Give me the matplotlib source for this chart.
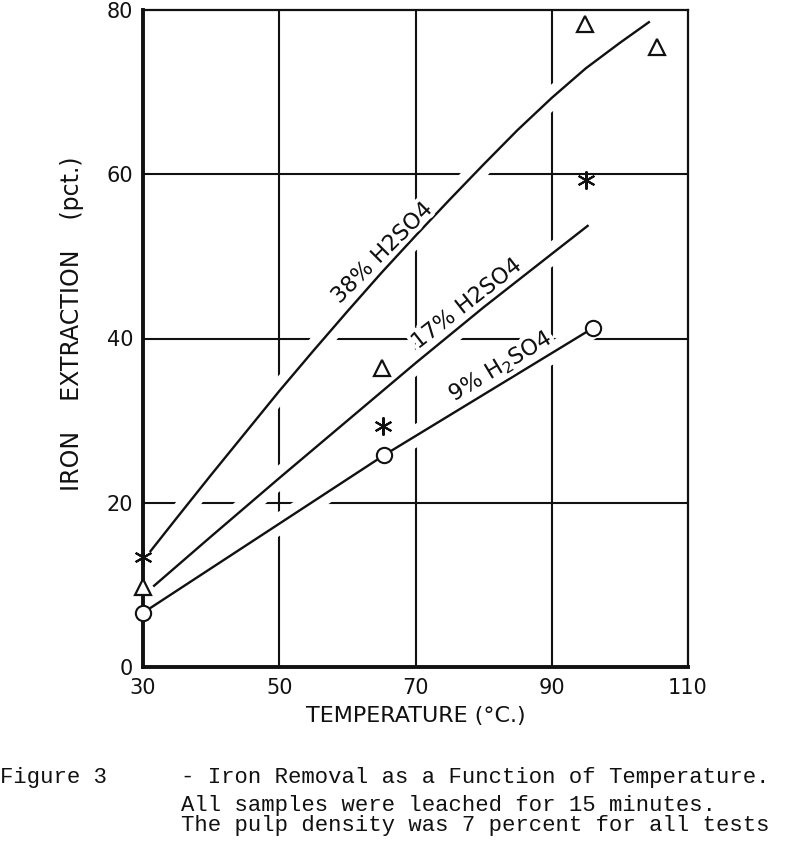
import matplotlib
matplotlib.use("Agg")
import matplotlib.pyplot as plt
import matplotlib.patheffects as pe

# ---- data ----
temp_38 = [31, 35, 40, 45, 50, 55, 60, 65, 70, 75, 80, 85, 90, 95, 100, 104.4]
ext_38 = [14.0, 18.2, 23.4, 28.5, 33.6, 38.5, 43.3, 48.0, 52.5, 56.9, 61.2, 65.4, 69.3, 72.9, 76.0, 78.6]

temp_17 = [31.5, 40, 50, 60, 70, 80, 90, 95.4]
ext_17 = [9.8, 15.9, 23.0, 30.0, 37.0, 43.8, 50.3, 53.8]

tri_t = [30, 65.1, 94.9, 105.4]
tri_v = [9.7, 36.4, 78.3, 75.5]
star_t = [30, 65.2, 95.1]
star_v = [13.4, 29.4, 59.3]
circ_t = [30, 65.4, 96.1]
circ_v = [6.6, 25.8, 41.3]

xticks = [30, 50, 70, 90, 110]
yticks = [0, 20, 40, 60, 80]
grid_x = [50, 70, 90]
grid_y = [20, 40, 60]

labels = ["38% H2SO4", "17% H2SO4", "9% H$_2$SO4"]
label_pos = [(65.1, 50.4), (77.5, 44.2), (82.5, 36.6)]
label_rot = [45, 38, 31]

caption_fig = "Figure 3"
caption_lines = ["- Iron Removal as a Function of Temperature.",
                 "All samples were leached for 15 minutes.",
                 "The pulp density was 7 percent for all tests"]

# ---- figure ----
W, H = 800, 858
AX_L, AX_R, AX_T, AX_B = 143, 688, 10, 667
fig = plt.figure(figsize=(W / 100, H / 100), dpi=100)
ax = fig.add_axes([AX_L / W, (H - AX_B) / H, (AX_R - AX_L) / W, (AX_B - AX_T) / H])
ax.set_xlim(30, 110)
ax.set_ylim(0, 80)

ink = "#111111"
for gx in grid_x:
    ax.axvline(gx, color=ink, lw=1.5, zorder=1)
for gy in grid_y:
    ax.axhline(gy, color=ink, lw=1.5, zorder=1)

gap = [pe.Stroke(linewidth=15, foreground="white"), pe.Normal()]
for tx, vy in [(circ_t, circ_v), (temp_17, ext_17), (temp_38, ext_38)]:
    ax.plot(tx, vy, color=ink, lw=1.7, zorder=2, path_effects=gap,
            solid_capstyle="butt", solid_joinstyle="round")

ax.plot(circ_t, circ_v, ls="none", marker="o", ms=11, mfc="white", mec=ink,
        mew=1.5, zorder=5, clip_on=False)
ax.plot(tri_t, tri_v, ls="none", marker="^", ms=12, mfc="white", mec=ink,
        mew=1.6, zorder=5, clip_on=False)
ax.plot(star_t, star_v, ls="none", marker=(6, 2, 0), ms=13, mec=ink,
        mew=1.5, zorder=5, clip_on=False)

txt_fx = [pe.withStroke(linewidth=6, foreground="white")]
for lab, (lx, ly), rot in zip(labels, label_pos, label_rot):
    ax.text(lx, ly, lab, fontsize=16, rotation=rot, rotation_mode="anchor",
            ha="center", va="center", color=ink, zorder=4,
            path_effects=txt_fx)

for side in ["left", "bottom"]:
    ax.spines[side].set_linewidth(2.8)
for side in ["top", "right"]:
    ax.spines[side].set_linewidth(1.6)
for s in ax.spines.values():
    s.set_color(ink)
    s.set_zorder(3)

ax.set_xticks(xticks)
ax.set_yticks(yticks)
ax.set_xticklabels([str(v) for v in xticks])
ax.set_yticklabels([str(v) for v in yticks])
ax.tick_params(axis="both", length=0, labelsize=15, colors=ink)
ax.tick_params(axis="x", pad=8)
ax.tick_params(axis="y", pad=7)

ax.set_xlabel("TEMPERATURE (°C.)", fontsize=16, color=ink, labelpad=6)
ax.set_ylabel("IRON    EXTRACTION    (pct.)", fontsize=17, color=ink)
ax.yaxis.set_label_coords((84 - AX_L) / (AX_R - AX_L), (AX_B - 324) / (AX_B - AX_T))

mono = "Liberation Mono"
fig.text(0 / W, 1 - 777 / H, caption_fig, family=mono, fontsize=16,
         va="center", ha="left", color=ink)
fig.text(181 / W, 1 - 777 / H, caption_lines[0], family=mono, fontsize=16,
         va="center", ha="left", color=ink)
fig.text(181 / W, 1 - 805 / H, caption_lines[1], family=mono, fontsize=16,
         va="center", ha="left", color=ink)
fig.text(181 / W, 1 - 826 / H, caption_lines[2], family=mono, fontsize=16,
         va="center", ha="left", color=ink)

fig.savefig("out.png", dpi=100, facecolor="white")
